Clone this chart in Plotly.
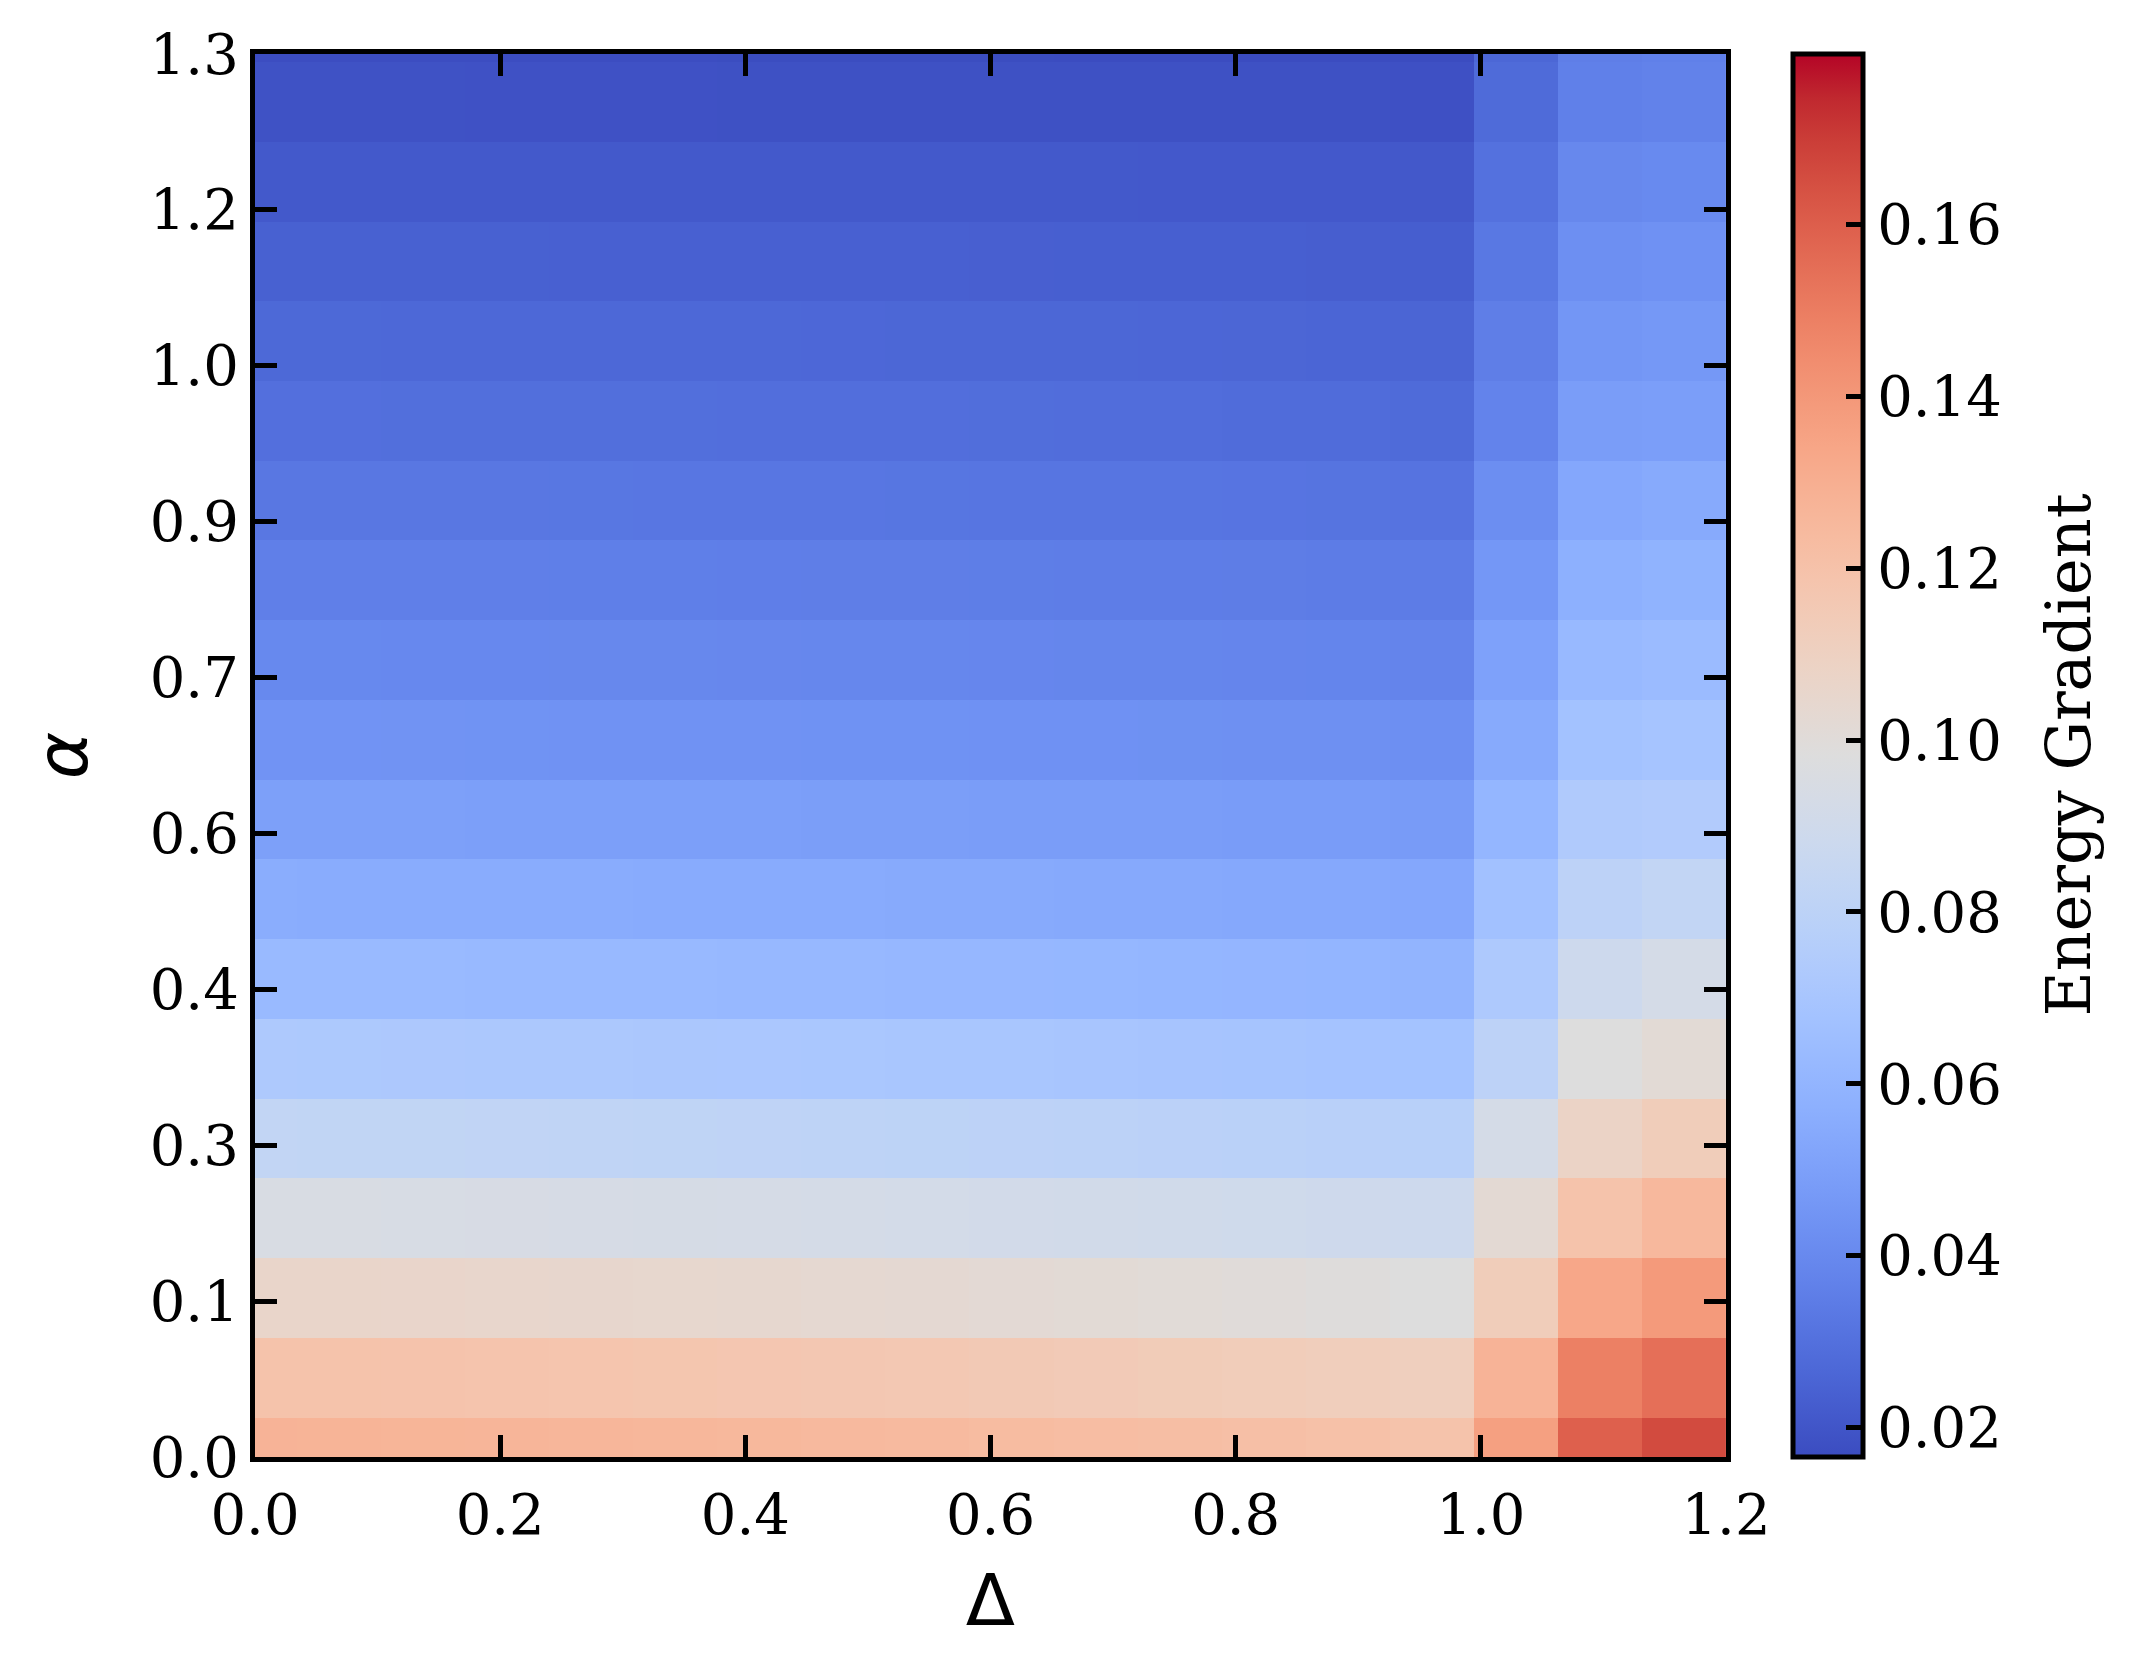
"""
energy gradient heatmap over (delta, alpha)
"""
import numpy as np
import plotly.graph_objects as go

# grid centres (cells are drawn around these)
delta = [0.0, 0.0686, 0.1371, 0.2057, 0.2743, 0.3429, 0.4114, 0.4800, 0.5486,
         0.6171, 0.6857, 0.7543, 0.8229, 0.8914, 0.9600, 1.0286, 1.0971, 1.1657]
alpha = [0.0, 0.0739, 0.1477, 0.2216, 0.2955, 0.3693, 0.4432, 0.5170, 0.5909,
         0.6648, 0.7386, 0.8125, 0.8864, 0.9602, 1.0341, 1.1080, 1.1818, 1.2557, 1.3295]

# energy gradient, one row per alpha (bottom to top), one value per delta
row_00 = [0.1276, 0.1274, 0.1270, 0.1266, 0.1262, 0.1257, 0.1252, 0.1246, 0.1240, 0.1234, 0.1227, 0.1220, 0.1213, 0.1204, 0.1194, 0.1366, 0.1594, 0.1659]
row_01 = [0.1194, 0.1192, 0.1189, 0.1185, 0.1181, 0.1176, 0.1171, 0.1165, 0.1159, 0.1152, 0.1145, 0.1138, 0.1130, 0.1122, 0.1113, 0.1276, 0.1488, 0.1545]
row_02 = [0.1064, 0.1062, 0.1059, 0.1055, 0.1051, 0.1046, 0.1041, 0.1035, 0.1029, 0.1022, 0.1015, 0.1007, 0.0999, 0.0991, 0.0982, 0.1129, 0.1333, 0.1390]
row_03 = [0.0949, 0.0947, 0.0945, 0.0942, 0.0938, 0.0934, 0.0930, 0.0925, 0.0920, 0.0915, 0.0909, 0.0903, 0.0897, 0.0891, 0.0884, 0.1023, 0.1194, 0.1251]
row_04 = [0.0827, 0.0826, 0.0824, 0.0822, 0.0819, 0.0816, 0.0813, 0.0809, 0.0805, 0.0801, 0.0797, 0.0793, 0.0788, 0.0783, 0.0778, 0.0925, 0.1080, 0.1129]
row_05 = [0.0725, 0.0724, 0.0722, 0.0720, 0.0718, 0.0715, 0.0712, 0.0709, 0.0705, 0.0702, 0.0698, 0.0694, 0.0690, 0.0685, 0.0680, 0.0802, 0.0982, 0.1015]
row_06 = [0.0631, 0.0630, 0.0629, 0.0627, 0.0625, 0.0623, 0.0621, 0.0619, 0.0616, 0.0614, 0.0611, 0.0608, 0.0605, 0.0602, 0.0598, 0.0729, 0.0884, 0.0925]
row_07 = [0.0558, 0.0557, 0.0556, 0.0555, 0.0554, 0.0552, 0.0551, 0.0549, 0.0547, 0.0545, 0.0543, 0.0541, 0.0539, 0.0536, 0.0533, 0.0672, 0.0802, 0.0827]
row_08 = [0.0499, 0.0499, 0.0498, 0.0497, 0.0496, 0.0494, 0.0493, 0.0491, 0.0490, 0.0488, 0.0486, 0.0484, 0.0482, 0.0479, 0.0476, 0.0607, 0.0737, 0.0745]
row_09 = [0.0443, 0.0443, 0.0442, 0.0441, 0.0440, 0.0439, 0.0438, 0.0437, 0.0436, 0.0435, 0.0434, 0.0432, 0.0431, 0.0429, 0.0427, 0.0546, 0.0675, 0.0688]
row_10 = [0.0398, 0.0398, 0.0397, 0.0396, 0.0395, 0.0394, 0.0393, 0.0392, 0.0390, 0.0389, 0.0387, 0.0386, 0.0384, 0.0381, 0.0378, 0.0504, 0.0623, 0.0639]
row_11 = [0.0360, 0.0360, 0.0359, 0.0359, 0.0358, 0.0357, 0.0356, 0.0355, 0.0354, 0.0353, 0.0352, 0.0351, 0.0350, 0.0348, 0.0346, 0.0460, 0.0574, 0.0590]
row_12 = [0.0327, 0.0327, 0.0326, 0.0326, 0.0325, 0.0324, 0.0323, 0.0322, 0.0321, 0.0320, 0.0319, 0.0318, 0.0317, 0.0315, 0.0313, 0.0419, 0.0533, 0.0545]
row_13 = [0.0297, 0.0297, 0.0296, 0.0296, 0.0295, 0.0294, 0.0293, 0.0292, 0.0291, 0.0290, 0.0288, 0.0287, 0.0285, 0.0283, 0.0280, 0.0375, 0.0488, 0.0492]
row_14 = [0.0270, 0.0270, 0.0269, 0.0269, 0.0268, 0.0267, 0.0267, 0.0266, 0.0265, 0.0264, 0.0263, 0.0262, 0.0260, 0.0258, 0.0256, 0.0354, 0.0455, 0.0465]
row_15 = [0.0242, 0.0242, 0.0241, 0.0241, 0.0240, 0.0240, 0.0239, 0.0238, 0.0238, 0.0237, 0.0236, 0.0235, 0.0234, 0.0233, 0.0231, 0.0329, 0.0427, 0.0435]
row_16 = [0.0214, 0.0214, 0.0214, 0.0214, 0.0213, 0.0213, 0.0213, 0.0213, 0.0212, 0.0212, 0.0212, 0.0211, 0.0211, 0.0211, 0.0210, 0.0305, 0.0394, 0.0403]
row_17 = [0.0187, 0.0187, 0.0187, 0.0186, 0.0186, 0.0186, 0.0185, 0.0185, 0.0185, 0.0184, 0.0184, 0.0184, 0.0183, 0.0183, 0.0182, 0.0280, 0.0362, 0.0370]
row_18 = [0.0170, 0.0170, 0.0170, 0.0169, 0.0169, 0.0169, 0.0168, 0.0168, 0.0168, 0.0168, 0.0167, 0.0167, 0.0167, 0.0166, 0.0166, 0.0264, 0.0354, 0.0362]

x_tick_labels = ["0.0", "0.2", "0.4", "0.6", "0.8", "1.0", "1.2"]
y_tick_labels = ["0.0", "0.1", "0.3", "0.4", "0.6", "0.7", "0.9", "1.0", "1.2", "1.3"]
cbar_ticks = [0.02, 0.04, 0.06, 0.08, 0.10, 0.12, 0.14, 0.16]
zmin, zmax = 0.0166, 0.1798

z = [row_00, row_01, row_02, row_03, row_04, row_05, row_06, row_07, row_08, row_09,
     row_10, row_11, row_12, row_13, row_14, row_15, row_16, row_17, row_18]

# matplotlib coolwarm
cw = [
    (0.2298, 0.2987, 0.7537), (0.2662, 0.3531, 0.8015), (0.3039, 0.4065, 0.8450),
    (0.3428, 0.4588, 0.8837), (0.3830, 0.5094, 0.9174), (0.4244, 0.5581, 0.9456),
    (0.4667, 0.6046, 0.9682), (0.5096, 0.6483, 0.9848), (0.5530, 0.6889, 0.9954),
    (0.5963, 0.7261, 0.9998), (0.6392, 0.7596, 0.9982), (0.6813, 0.7890, 0.9904),
    (0.7222, 0.8140, 0.9766), (0.7615, 0.8343, 0.9569), (0.7987, 0.8498, 0.9317),
    (0.8335, 0.8602, 0.9011), (0.8654, 0.8654, 0.8654), (0.8978, 0.8489, 0.8209),
    (0.9241, 0.8274, 0.7745), (0.9445, 0.8009, 0.7267), (0.9589, 0.7698, 0.6780),
    (0.9673, 0.7341, 0.6288), (0.9700, 0.6943, 0.5794), (0.9668, 0.6504, 0.5303),
    (0.9580, 0.6028, 0.4818), (0.9437, 0.5518, 0.4342), (0.9239, 0.4973, 0.3880),
    (0.8990, 0.4396, 0.3432), (0.8692, 0.3783, 0.3003), (0.8346, 0.3129, 0.2593),
    (0.7956, 0.2413, 0.2205), (0.7525, 0.1572, 0.1841), (0.7057, 0.0156, 0.1502),
]
coolwarm = [[i / (len(cw) - 1), "rgb({},{},{})".format(*[round(c * 255) for c in col])]
            for i, col in enumerate(cw)]

serif = "DejaVu Serif"

fig = go.Figure()
fig.add_trace(go.Heatmap(
    z=z, x=delta, y=alpha,
    colorscale=coolwarm, zmin=zmin, zmax=zmax,
    colorbar=dict(
        x=1.0456, xanchor="left", xpad=0, ypad=0,
        y=0.5, len=1, thickness=70,
        outlinewidth=5, outlinecolor="black",
        ticks="inside", ticklen=19, tickwidth=5, tickcolor="black",
        tickvals=cbar_ticks, ticktext=["{:.2f}".format(v) for v in cbar_ticks],
        tickfont=dict(family=serif, size=56, color="black"),
    ),
))

axis_common = dict(
    showline=True, linewidth=5, linecolor="black", mirror="allticks",
    ticks="inside", ticklen=22, tickwidth=5, tickcolor="black",
    showgrid=False, zeroline=False, automargin=False,
    tickfont=dict(family=serif, size=56, color="black"),
)

fig.update_xaxes(
    range=[0, 1.2], tickvals=np.linspace(0, 1.2, 7), ticktext=x_tick_labels,
    ticklabelstandoff=5,
    title=dict(text="Δ", font=dict(family="DejaVu Sans", size=72, color="black"), standoff=30),
    **axis_common,
)
fig.update_yaxes(
    range=[0, 1.3], tickvals=np.linspace(0, 1.3, 10), ticktext=y_tick_labels,
    title=dict(text="<i>α</i>", font=dict(family="DejaVu Sans", size=72, color="black"), standoff=40),
    **axis_common,
)

# colorbar label, placed by hand next to the bar
fig.add_annotation(
    text="Energy Gradient", textangle=-90,
    xref="paper", yref="paper", x=1.2325, y=0.5,
    xanchor="center", yanchor="middle", showarrow=False,
    font=dict(family=serif, size=62, color="black"),
)

# page body has an 8px margin, so pull the plot back by that much
fig.update_layout(
    width=2132, height=1674,
    margin=dict(l=247, r=414, t=46, b=225),
    plot_bgcolor="white", paper_bgcolor="white",
)

fig.write_html("out.html")
